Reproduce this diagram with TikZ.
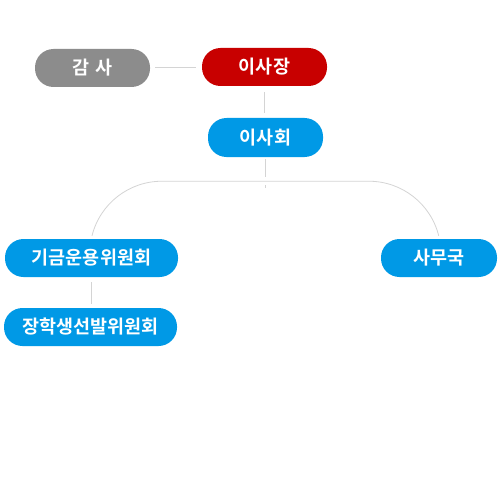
\documentclass[tikz,border=0pt]{standalone}
\usepackage{fontspec}
\setmainfont{Noto Sans CJK KR}[BoldFont={Noto Sans CJK KR Bold}]
\definecolor{cgray}{HTML}{8C8C8C}
\definecolor{cred}{HTML}{C80000}
\definecolor{cblue}{HTML}{0099E6}
\definecolor{cline}{HTML}{D4D4D4}
\begin{document}
\begin{tikzpicture}[x=1pt,y=1pt,
  box/.style={rectangle, rounded corners=18.5pt, minimum height=38pt, inner sep=0pt,
    text=white, font=\fontsize{18.5}{20}\selectfont\bfseries},
  conn/.style={draw=cline, line width=1.2pt}]
\useasboundingbox (0,0) rectangle (500,-500);
\fill[white] (0,0) rectangle (500,-500);
\node[box, fill=cgray, minimum width=115pt] (gs) at (92.5,-68) {감\hspace{6.5pt}사};
\node[box, fill=cred, minimum width=125pt] (cj) at (264.5,-67) {이사장};
\node[box, fill=cblue, minimum width=115pt, minimum height=39pt] (ih) at (265.5,-137.5) {이사회};
\node[box, fill=cblue, minimum width=173pt] (kg) at (91.5,-258) {기금운용위원회};
\node[box, fill=cblue, minimum width=116pt] (sm) at (439,-258) {사무국};
\node[box, fill=cblue, minimum width=173pt] (jh) at (90.5,-327) {장학생선발위원회};
\coordinate (hub) at (265.5,-182);
\coordinate (hubtick) at (265.5,-185);
\coordinate (hubtickend) at (265.5,-188);
\draw[conn, line width=1pt, shorten <=5pt, shorten >=6pt] (gs.east) -- (gs.east -| cj.west);
\draw[conn, line width=1.6pt, shorten <=6pt, shorten >=5pt] (cj.south) -- (cj.south |- ih.north);
\draw[conn, line width=1.6pt, shorten <=2pt, shorten >=5pt] (ih.south) -- (hub);
\draw[conn, line width=0.6pt] (hubtick) -- (hubtickend);
\draw[conn, line width=0.8pt] ([shift={(0.5pt,3pt)}]kg.north) arc[start angle=166, end angle=90, radius=72pt]
   -- ++(207pt,0) arc[start angle=90, end angle=14, radius=72pt];
\draw[conn, line width=1.6pt, shorten <=5pt, shorten >=4pt] (kg.south) -- (kg.south |- jh.north);
\end{tikzpicture}
\end{document}
